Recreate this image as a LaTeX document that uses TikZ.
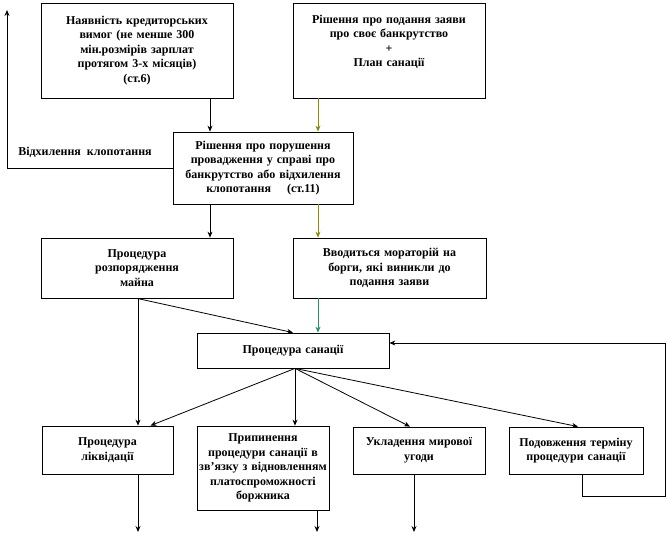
\documentclass[tikz,border=0pt]{standalone}
\usepackage{fontspec}
\setmainfont{Liberation Serif}
\usetikzlibrary{arrows.meta}
\definecolor{olivearr}{HTML}{8C8C00}
\definecolor{greenarr}{HTML}{1E9960}
\tikzset{
  blok/.style={draw, line width=0.8pt, align=center, inner sep=1pt,
    font=\bfseries\fontsize{12}{14.5}\selectfont},
  lbl/.style={font=\bfseries\fontsize{12}{14.5}\selectfont}
}
\begin{document}
\begin{tikzpicture}[x=1pt, y=-1pt, line width=0.8pt, >={Stealth[length=6pt,width=5pt]}]
        \useasboundingbox (0,0) rectangle (667,535);

        % Top row
        \node[blok, text width=190pt, minimum height=95pt] (crdt) at (137,50.5)
          {Наявність  кредиторських\\ вимог  (не менше 300\\ мін.розмірів зарплат\\ протягом 3-х місяців)\\ (ст.6)};
        \node[blok, text width=190pt, minimum height=95pt] (plan) at (389,50.5)
          {Рішення про подання заяви\\ про своє банкрутство\\ +\\ План санації\\ \strut};

        % Court decision
        \node[blok, text width=178pt, minimum height=72pt] (rish) at (263,168)
          {Рішення про порушення\\ провадження  у справі про\\ банкрутство  або відхилення\\ клопотання \quad (ст.11)};
        \node[lbl] (vidh) at (85,152) {Відхилення \ клопотання};

        % Second row
        \node[blok, text width=190pt, minimum height=60pt] (rozp) at (137,268)
          {Процедура\\ розпорядження\\ майна};
        \node[blok, text width=191pt, minimum height=60pt] (mor) at (389.5,268)
          {Вводиться мораторій на\\ борги, які виникли до\\ подання заяви};

        \node[blok, text width=190pt, minimum height=35pt] (san) at (293,350.5) {Процедура санації};

        % Bottom row
        \node[blok, text width=129pt, minimum height=48pt] (likv) at (107.5,450) {Процедура\\ ліквідації};
        \node[blok, text width=130pt, minimum height=84pt] (prup) at (263,468)
          {Припинення\\ процедури санації в\\ зв'язку з відновленням\\ платоспроможності\\ боржника};
        \node[blok, text width=130pt, minimum height=47pt] (ugod) at (419,450.5) {Укладення мирової\\ угоди};
        \node[blok, text width=132pt, minimum height=47pt] (podov) at (576,450.5) {Подовження терміну\\ процедури санації};

        % Helper coordinates
        \coordinate (a1) at (210,0);
        \coordinate (a2) at (318,0);
        \coordinate (up) at (7,10);
        \coordinate (fb) at (665,496);
        \coordinate (e1) at (138,532);
        \coordinate (e2) at (317,532);
        \coordinate (e3) at (414,532);

        % Arrows down the middle
        \draw[->] (a1 |- crdt.south) -- (a1 |- rish.north);
        \draw[->, olivearr] (a2 |- plan.south) -- (a2 |- rish.north);
        \draw[->] (a1 |- rish.south) -- (a1 |- rozp.north);
        \draw[->, olivearr] (a2 |- rish.south) -- (a2 |- mor.north);
        \draw[->, greenarr] (a2 |- mor.south) -- (a2 |- san.north);
        \draw[->] (rish.west) -- (rish.west -| up) -- (up);
        \draw[->] (rozp.south) -- (san.north);
        \draw[->] ([xshift=1pt]rozp.south) -- ([xshift=1pt]rozp.south |- likv.north);

        % Fan out of the sanation box
        \draw[->] ([xshift=2pt]san.south) -- ([xshift=43pt]likv.north);
        \draw[->] ([xshift=2pt]san.south) -- ([xshift=2pt]san.south |- prup.north);
        \draw[->] ([xshift=2pt]san.south) -- ([xshift=-9pt]ugod.north);
        \draw[->] ([xshift=2pt]san.south) -- ([xshift=2pt]podov.north);

        % Loop back and outgoing arrows
        \draw[->] ([xshift=6pt]podov.south) |- (fb) |- ([yshift=7.5pt]san.east);
        \draw[->] (likv.south -| e1) -- (e1);
        \draw[->] (prup.south -| e2) -- (e2);
        \draw[->] (ugod.south -| e3) -- (e3);
    \end{tikzpicture}
\end{document}
